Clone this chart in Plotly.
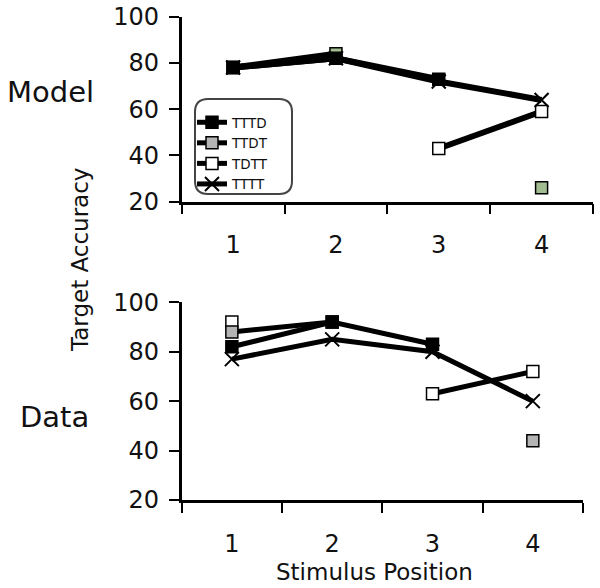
import plotly.graph_objects as go

# ---------------- data ----------------
positions = ["1", "2", "3", "4"]
series_names = ["TTTD", "TTDT", "TDTT", "TTTT"]

model_TTTD = [78, 82, 73, None]
model_TTDT = [78, 84, None, 26]
model_TDTT = [78, None, 43, 59]
model_TTTT = [78, 82, 72, 64]

data_TTTD = [82, 92, 83, None]
data_TTDT = [88, 92, None, 44]
data_TDTT = [92, None, 63, 72]
data_TTTT = [77, 85, 80, 60]

y_ticks = [20, 40, 60, 80, 100]

model_vals = {"TTTD": model_TTTD, "TTDT": model_TTDT, "TDTT": model_TDTT, "TTTT": model_TTTT}
data_vals = {"TTTD": data_TTTD, "TTDT": data_TTDT, "TDTT": data_TDTT, "TTTT": data_TTTT}

FONT = "DejaVu Sans"
W, H = 600, 588

style = {
    "TTTD": dict(symbol="square", color="#000000", size=12),
    "TTDT": dict(symbol="square", color="#b4b4b4", size=12),
    "TDTT": dict(symbol="square", color="#ffffff", size=12),
    "TTTT": dict(symbol="x-thin-open", color="#000000", size=14),
}
model_colors = {"TTDT": "#a3bd93"}

draw_order = ["TDTT", "TTDT", "TTTT", "TTTD"]

fig = go.Figure()


def add(vals, xa, ya, name, show, lw, colors_override=None):
    st = style[name]
    col = (colors_override or {}).get(name, st["color"])
    if st["symbol"] == "x-thin-open":
        marker = dict(symbol=st["symbol"], size=st["size"], color="#000000",
                      line=dict(color="#000000", width=2))
    else:
        marker = dict(symbol=st["symbol"], size=st["size"], color=col,
                      line=dict(color="#000000", width=1.5))
    fig.add_trace(go.Scatter(
        x=positions, y=vals[name], mode="lines+markers", name=name,
        xaxis=xa, yaxis=ya, showlegend=show,
        legendrank=series_names.index(name) + 1,
        line=dict(color="#000000", width=lw), marker=marker,
    ))


for n in draw_order:
    add(model_vals, "x", "y", n, False, 6, model_colors)
for n in draw_order:
    add(data_vals, "x2", "y2", n, True, 5)


def px_x(p):
    return p / W


def px_y(p):
    return 1 - p / H


axis_common = dict(showline=True, linewidth=2.5, linecolor="#000000",
                   ticks="outside", ticklen=10, tickwidth=2, tickcolor="#000000",
                   showgrid=False, zeroline=False, automargin=False,
                   ticklabeloverflow="allow",
                   tickfont=dict(family=FONT, size=24, color="#111111"))

xaxis_common = dict(axis_common, type="category", tickson="boundaries",
                    range=[-0.5, 3.5], ticklabelstandoff=20)
yaxis_common = dict(axis_common, range=[20, 100], tickvals=y_ticks, ticklabelstandoff=5)

fig.update_layout(
    width=W, height=H,
    margin=dict(l=0, r=0, t=0, b=0, autoexpand=False),
    paper_bgcolor="white", plot_bgcolor="white",
    xaxis=dict(xaxis_common, domain=[px_x(181.7), px_x(593)], anchor="y"),
    yaxis=dict(yaxis_common, domain=[px_y(201.7), px_y(16.7)], anchor="x"),
    xaxis2=dict(xaxis_common, domain=[px_x(181.7), px_x(583)], anchor="y2"),
    yaxis2=dict(yaxis_common, domain=[px_y(500), px_y(302.3)], anchor="x2"),
    legend=dict(x=px_x(192), y=px_y(107), xanchor="left", yanchor="top",
                bgcolor="rgba(0,0,0,0)", borderwidth=0,
                font=dict(family=FONT, size=13.5, color="#111111"),
                traceorder="normal", itemwidth=30),
    showlegend=True,
)

# rounded legend frame
x0, x1, y0, y1, r = 195, 292, 99, 194, 13
path = (f"M {px_x(x0 + r)} {px_y(y0)} L {px_x(x1 - r)} {px_y(y0)} "
        f"Q {px_x(x1)} {px_y(y0)} {px_x(x1)} {px_y(y0 + r)} "
        f"L {px_x(x1)} {px_y(y1 - r)} Q {px_x(x1)} {px_y(y1)} {px_x(x1 - r)} {px_y(y1)} "
        f"L {px_x(x0 + r)} {px_y(y1)} Q {px_x(x0)} {px_y(y1)} {px_x(x0)} {px_y(y1 - r)} "
        f"L {px_x(x0)} {px_y(y0 + r)} Q {px_x(x0)} {px_y(y0)} {px_x(x0 + r)} {px_y(y0)} Z")
fig.add_shape(type="path", path=path, xref="paper", yref="paper",
              line=dict(color="#444444", width=2), fillcolor="rgba(0,0,0,0)", layer="below")

ann_font = dict(family=FONT, color="#111111")
fig.add_annotation(text="Model", x=px_x(50), y=px_y(92), xref="paper", yref="paper",
                   showarrow=False, font=dict(ann_font, size=29), xanchor="center", yanchor="middle")
fig.add_annotation(text="Data", x=px_x(55), y=px_y(417), xref="paper", yref="paper",
                   showarrow=False, font=dict(ann_font, size=29), xanchor="center", yanchor="middle")
fig.add_annotation(text="Target Accuracy", x=px_x(80), y=px_y(260), xref="paper", yref="paper",
                   showarrow=False, textangle=-90, font=dict(ann_font, size=23),
                   xanchor="center", yanchor="middle")
fig.add_annotation(text="Stimulus Position", x=px_x(374), y=px_y(572), xref="paper", yref="paper",
                   showarrow=False, font=dict(ann_font, size=23), xanchor="center", yanchor="middle")

# the page body has a default 8px margin; remove it so the figure fills the window
fig.write_html("out.html", config={"displayModeBar": False},
               post_script="document.body.style.margin='0px';")
